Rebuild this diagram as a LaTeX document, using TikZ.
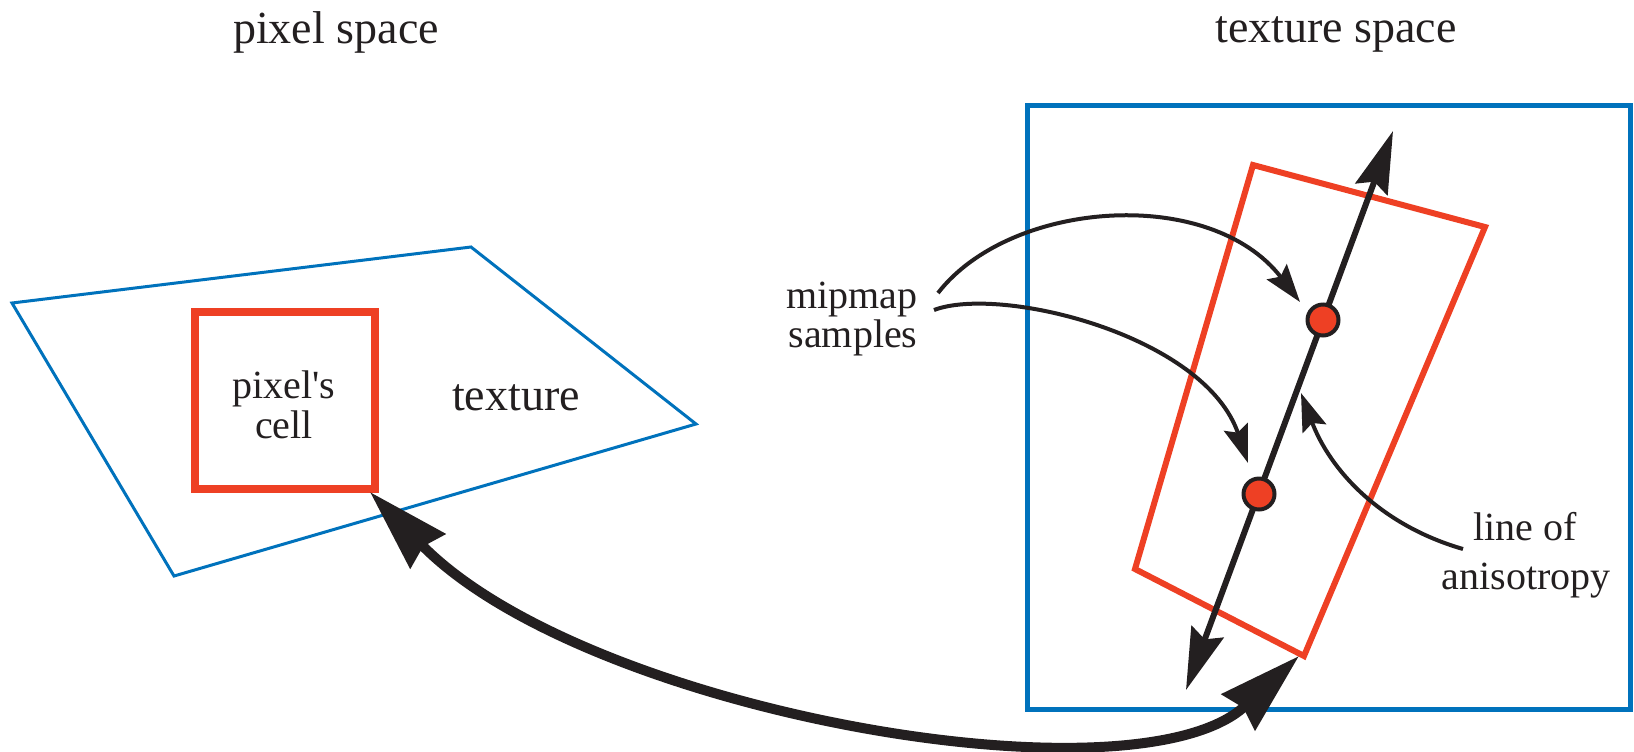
\documentclass[tikz,border=0pt]{standalone}
\usepackage{fontspec}
\setmainfont{Liberation Serif}[Ligatures=TeXOff]
\usetikzlibrary{arrows.meta}
\definecolor{figblue}{RGB}{0, 114, 188}
\definecolor{figred}{RGB}{238, 64, 36}
\definecolor{figblack}{RGB}{35, 31, 32}

\tikzset{
  headtext/.style={anchor=base, inner sep=0pt, text=figblack, font=\fontsize{23}{27}\selectfont},
  lbltext/.style={anchor=base, inner sep=0pt, text=figblack, font=\fontsize{20}{24}\selectfont},
  dot/.style={circle, draw=figblack, fill=figred, line width=2pt, minimum size=15.5pt, inner sep=0pt},
  thinarrow/.style={draw=figblack, line width=2pt, arrows={-Stealth[length=19pt, width=12.5pt, inset=3pt]}},
  axisarrow/.style={draw=figblack, line width=3pt, arrows={Stealth[length=31pt, width=17pt, inset=4pt]-Stealth[length=31pt, width=17pt, inset=4pt]}},
  bigarrow/.style={draw=figblack, line width=5pt, arrows={Stealth[length=41pt, width=24pt, inset=3pt]-Stealth[length=41pt, width=24pt, inset=3pt]}}
}

\begin{document}
\begin{tikzpicture}[x=0.5pt, y=-0.5pt]
        \useasboundingbox (0,0) rectangle (1634,751);

        % pixel space
        \coordinate (P1) at (12,303);
        \coordinate (P2) at (471,247);
        \coordinate (P3) at (696,424);
        \coordinate (P4) at (174,576);

        \coordinate (C1) at (195,312);
        \coordinate (C2) at (375,489);

        \draw[figblue, line width=1.5pt] (P1)--(P2)--(P3)--(P4)--cycle;
        \draw[figred, line width=4pt] (C1) rectangle (C2);

        \node[headtext] (pixsp) at (336,43) {pixel space};
        \node[lbltext] (cellA) at (284,398) {pixel's};
        \node[lbltext] (cellB) at (284,438) {cell};
        \node[headtext] (tex) at (516,410) {texture};

        % texture space
        \coordinate (T1) at (1027,105);
        \coordinate (T2) at (1630,709);

        \coordinate (Q1) at (1253,165);
        \coordinate (Q2) at (1485,227);
        \coordinate (Q3) at (1304,656);
        \coordinate (Q4) at (1135,569);

        \draw[figblue, line width=2.5pt] (T1) rectangle (T2);
        \draw[figred, line width=3pt] (Q1)--(Q2)--(Q3)--(Q4)--cycle;

        \node[headtext] (texsp) at (1336,42) {texture space};

        % line of anisotropy
        \coordinate (A1) at (1186,690);
        \coordinate (A2) at (1393,131);
        \draw[axisarrow] (A1) -- (A2);

        \node[dot] (s1) at (1323,320) {};
        \node[dot] (s2) at (1259,494) {};

        \node[lbltext] (mipA) at (852,308) {mipmap};
        \node[lbltext] (mipB) at (853,347) {samples};
        \node[lbltext] (lineA) at (1525,540) {line of};
        \node[lbltext] (lineB) at (1526,589) {anisotropy};

        % pointers
        \coordinate (M1) at (938,293);
        \coordinate (M2) at (934,310);
        \coordinate (H1) at (1300,302);
        \coordinate (H2) at (1248,463);
        \coordinate (L1) at (1463,549);
        \coordinate (H3) at (1301,393);

        \draw[thinarrow] (M1) .. controls (1010,200) and (1210,185) .. (H1);
        \draw[thinarrow] (M2) .. controls (1000,285) and (1205,335) .. (H2);
        \draw[thinarrow] (L1) .. controls (1380,525) and (1330,470) .. (H3);

        % pixel cell <-> footprint
        \coordinate (B1) at (370,492);
        \coordinate (B2) at (1299,656);
        \draw[bigarrow] (B1) .. controls (585,712) and (1135,808) .. (B2);
      \end{tikzpicture}
\end{document}
